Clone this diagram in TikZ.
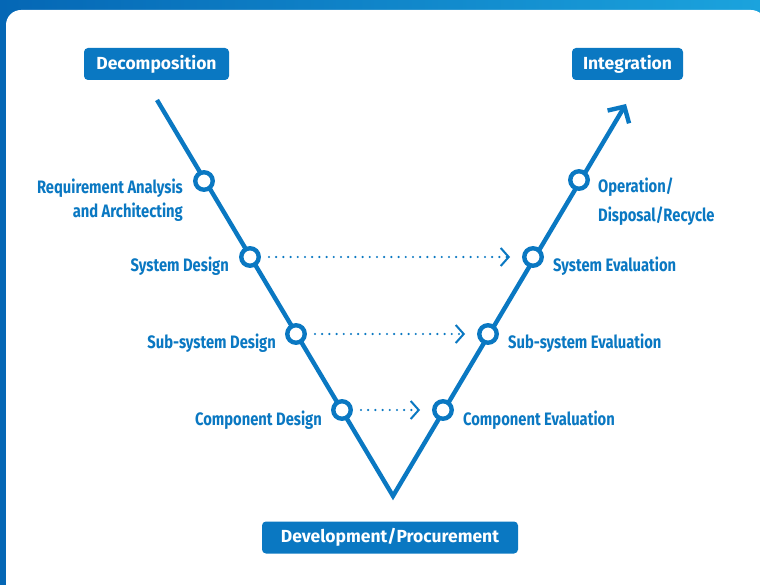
\documentclass[tikz,border=0pt]{standalone}
\usepackage{fontspec}
\setmainfont{Fira Sans}
\newfontfamily\condfont{Fira Sans}[FakeStretch=0.82]
\usetikzlibrary{positioning,arrows.meta}
\definecolor{vblue}{HTML}{0A78C2}
\definecolor{bgdark}{HTML}{0567B5}
\definecolor{bglight}{HTML}{1BA3DD}

\begin{document}
\begin{tikzpicture}[x=1pt,y=-1pt,
	>={Straight Barb[length=12pt,width=25pt]},
	stage/.style={circle,draw=vblue,fill=white,line width=4.4pt,minimum size=17.5pt,inner sep=0pt},
	phase/.style={fill=vblue,rounded corners=4pt,text=white,minimum height=32pt,inner sep=0pt,
		font=\bfseries\fontsize{17.5}{20}\selectfont},
	lbl/.style={text=vblue,inner sep=0pt,font=\condfont\bfseries\fontsize{18}{24}\selectfont},
	trace/.style={vblue,line width=2.4pt,dash pattern=on 0pt off 7.2pt,line cap=round,
		shorten <=8pt,shorten >=12pt,-{Straight Barb[length=8pt,width=18pt,line width=2pt]}}]
	\useasboundingbox (0,0) rectangle (760,585);
	\shade[left color=bgdark,right color=bglight] (0,0) rectangle (760,585);
	\fill[white,rounded corners=15pt] (6,10) rectangle (766,600);

	% the V
	\coordinate (top) at (157,100);
	\coordinate (bot) at (393,496);
	\coordinate (tip) at (626,104);
	\draw[vblue,line width=4.4pt,line join=miter,->] (top) -- (bot) -- (tip);

	\node[stage] (ra)  at (204,181) {};
	\node[stage] (sd)  at (250,257) {};
	\node[stage] (ssd) at (296,334) {};
	\node[stage] (cd)  at (342,410) {};
	\node[stage] (ce)  at (443,410) {};
	\node[stage] (sse) at (488,334) {};
	\node[stage] (se)  at (533,257) {};
	\node[stage] (op)  at (579,180) {};

	\node[lbl,align=right,left=10pt of ra,yshift=-19pt] (ralbl) {Requirement Analysis\\and Architecting};
	\node[lbl,left=10pt of sd,yshift=-9pt] (sdlbl) {System Design};
	\node[lbl,left=9pt of ssd,yshift=-9pt] (ssdlbl) {Sub-system Design};
	\node[lbl,left=9pt of cd,yshift=-10pt] (cdlbl) {Component Design};
	\node[lbl,right=9pt of ce,yshift=-10pt] (celbl) {Component Evaluation};
	\node[lbl,right=9pt of sse,yshift=-9pt] (sselbl) {Sub-system Evaluation};
	\node[lbl,right=9pt of se,yshift=-9pt] (selbl) {System Evaluation};
	\node[lbl,align=left,right=8pt of op,yshift=-22pt,font=\condfont\bfseries\fontsize{18}{29}\selectfont] (oplbl) {Operation/\\Disposal/Recycle};

	\draw[trace] (sd) -- (se);
	\draw[trace] (ssd) -- (sse);
	\draw[trace] (cd) -- (ce);

	\node[phase,minimum width=145pt] (dec) at (156.5,64) {Decomposition};
	\node[phase,minimum width=111pt] (integ) at (627.5,64) {Integration};
	\node[phase,minimum width=256pt] (dev) at (390,537.5) {Development/Procurement};
\end{tikzpicture}
\end{document}
